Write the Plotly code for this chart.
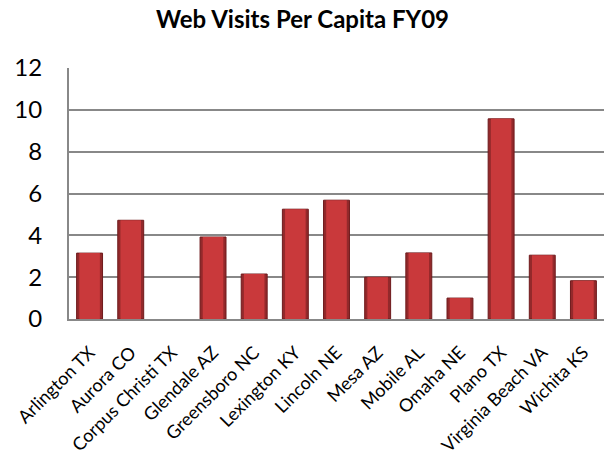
import plotly.graph_objects as go

cities = ["Arlington TX", "Aurora CO", "Corpus Christi TX", "Glendale AZ",
          "Greensboro NC", "Lexington KY", "Lincoln NE", "Mesa AZ",
          "Mobile AL", "Omaha NE", "Plano TX", "Virginia Beach VA", "Wichita KS"]
visits = [3.15, 4.72, None, 3.92, 2.15, 5.25, 5.68, 2.0, 3.16, 1.0, 9.57, 3.05, 1.83]

fnt = "Lato, Carlito, 'Liberation Sans', sans-serif"

fig = go.Figure()
# darker body gives the bevelled edge, lighter face on top of it
fig.add_trace(go.Bar(
    x=cities, y=visits, width=0.63, hoverinfo="skip",
    marker=dict(color="#93292B", line=dict(color="#6E1A1C", width=1)),
))
fig.add_trace(go.Bar(
    x=cities, y=visits, width=0.5,
    marker=dict(color="#C9393B", line=dict(width=0)),
))

fig.update_layout(
    template="none",
    width=605, height=465,
    margin=dict(l=69, r=1, t=68, b=146, autoexpand=False),
    paper_bgcolor="white", plot_bgcolor="white",
    showlegend=False,
    barmode="overlay",
    font=dict(family=fnt, color="black"),
    title=dict(text="<b>Web Visits Per Capita FY09</b>", x=0.5, xanchor="center",
               y=0.958, yanchor="middle", font=dict(size=24, family=fnt)),
)
fig.update_yaxes(
    range=[0, 12], dtick=2, showgrid=True, gridcolor="#888888", gridwidth=2,
    showline=True, linecolor="#888888", linewidth=2, zeroline=False,
    ticks="outside", ticklen=20, tickcolor="white", tickfont=dict(size=24),
    automargin=False,
)
fig.update_xaxes(
    tickangle=-45, showline=True, linecolor="#888888", linewidth=2,
    showgrid=False, ticks="outside", ticklen=14, tickcolor="white",
    tickfont=dict(size=18), automargin=False,
)

fig.write_html("out.html", config={"displayModeBar": False},
               post_script="document.body.style.margin='0';")
